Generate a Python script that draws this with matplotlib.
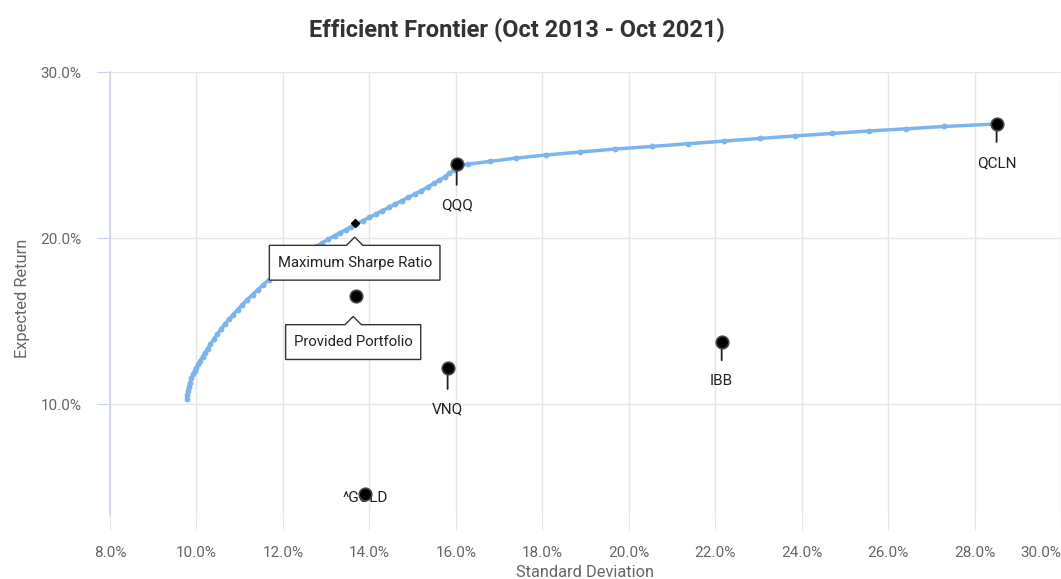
import numpy as np
import matplotlib.pyplot as plt
from matplotlib.path import Path

plt.rcParams['font.family'] = ['Roboto', 'DejaVu Sans']

# Frontera eficiente (desvio estandar %, retorno esperado %)
frontier_sd = [9.78, 9.79, 9.80, 9.82, 9.85, 9.88, 9.92, 9.96, 10.00, 10.04,
               10.09, 10.14, 10.20, 10.26, 10.32, 10.40, 10.48, 10.56, 10.65, 10.75,
               10.85, 10.95, 11.05, 11.17, 11.30, 11.42, 11.55, 11.67, 11.80, 11.92,
               12.05, 12.17, 12.30, 12.45, 12.60, 12.75, 12.90, 13.05, 13.20, 13.32,
               13.45, 13.58, 13.70, 13.85, 14.00, 14.15, 14.30, 14.45, 14.60, 14.75,
               14.90, 15.05, 15.20, 15.35, 15.50, 15.62, 15.75, 15.85, 15.95, 16.00,
               16.06, 16.28, 16.80, 17.40, 18.08, 18.87, 19.68, 20.54, 21.37, 22.20,
               23.03, 23.85, 24.70, 25.56, 26.42, 27.30, 28.51]
frontier_ret = [10.30, 10.55, 10.80, 11.05, 11.30, 11.55, 11.80, 12.00, 12.20, 12.40,
                12.60, 12.85, 13.10, 13.35, 13.60, 13.90, 14.20, 14.50, 14.80, 15.10,
                15.40, 15.68, 15.95, 16.28, 16.60, 16.90, 17.20, 17.48, 17.75, 18.00,
                18.25, 18.50, 18.75, 19.00, 19.25, 19.48, 19.70, 19.93, 20.15, 20.33,
                20.50, 20.68, 20.85, 21.05, 21.25, 21.45, 21.65, 21.85, 22.05, 22.25,
                22.45, 22.65, 22.85, 23.08, 23.30, 23.50, 23.70, 23.90, 24.10, 24.23,
                24.35, 24.45, 24.62, 24.82, 25.00, 25.18, 25.36, 25.52, 25.68, 25.84,
                26.00, 26.15, 26.30, 26.45, 26.58, 26.72, 26.87]

# Activos individuales
assets = ['QQQ', 'QCLN', 'IBB', 'VNQ', '^GOLD']
asset_sd = [16.02, 28.51, 22.15, 15.81, 13.90]
asset_ret = [24.46, 26.87, 13.73, 12.17, 4.58]

# Carteras destacadas
sharpe_sd, sharpe_ret = 13.66, 20.90
provided_sd, provided_ret = 13.69, 16.50

xticks = [8, 10, 12, 14, 16, 18, 20, 22, 24, 26, 28, 30]
yticks = [10, 20, 30]


def callout(x0, y0, width, height, mutation_size):
    # caja con piquito arriba (estilo tooltip)
    px, py = 0.55 * mutation_size, 0.7 * mutation_size
    x0, y0 = x0 - px, y0 - py
    x1, y1 = x0 + width + 2 * px, y0 + height + 2 * py
    cx = (x0 + x1) / 2
    nw, nh = 0.55 * mutation_size, 0.55 * mutation_size
    verts = [(x0, y0), (x1, y0), (x1, y1), (cx + nw, y1), (cx, y1 + nh),
             (cx - nw, y1), (x0, y1), (x0, y0)]
    codes = [Path.MOVETO] + [Path.LINETO] * 6 + [Path.CLOSEPOLY]
    return Path(verts, codes)


fig = plt.figure(figsize=(10.61, 5.79), dpi=100)
ax = fig.add_axes([110 / 1061, 1 - 515 / 579, 951 / 1061, 443 / 579])

ax.plot(frontier_sd, frontier_ret, color='#7cb5ec', linewidth=2.5,
        marker='o', markersize=3.2, zorder=3)

ax.plot(asset_sd, asset_ret, 'o', color='black', markersize=9,
        markeredgecolor='#444444', markeredgewidth=1.2, zorder=5, linestyle='none')
ax.plot([provided_sd], [provided_ret], 'o', color='black', markersize=9,
        markeredgecolor='#444444', markeredgewidth=1.2, zorder=5)
ax.plot([sharpe_sd], [sharpe_ret], 'D', color='black', markersize=4, zorder=5)

# etiquetas de activos
for name, sx, ry in zip(assets, asset_sd, asset_ret):
    if name == '^GOLD':
        ax.annotate(name, (sx, ry), xytext=(0, -3), textcoords='offset points',
                    ha='center', va='center', fontsize=11, color='#222222', zorder=4)
    else:
        off = -30 if name in ('VNQ', 'QQQ') else -28
        ax.annotate(name, (sx, ry), xytext=(0, off), textcoords='offset points',
                    ha='center', va='center', fontsize=11, color='#222222', zorder=4,
                    arrowprops=dict(arrowstyle='-', color='#222222', lw=1.3,
                                    shrinkA=8, shrinkB=0))

box = dict(boxstyle=callout, facecolor='white', edgecolor='#333333', linewidth=1)
ax.annotate('Maximum Sharpe Ratio', (sharpe_sd, sharpe_ret), xytext=(0, -28.5),
            textcoords='offset points', ha='center', va='center', fontsize=10.7,
            color='#222222', bbox=box, zorder=6)
ax.annotate('Provided Portfolio', (provided_sd, provided_ret), xytext=(-2, -33),
            textcoords='offset points', ha='center', va='center', fontsize=10.7,
            color='#222222', bbox=box, zorder=6)

ax.set_xlim(8, 30)
ax.set_ylim(3.33, 30)
ax.set_xticks(xticks)
ax.set_yticks(yticks)
ax.set_xticklabels([f'{v:.1f}%' for v in xticks])
ax.set_yticklabels([f'{v:.1f}%' for v in yticks])
ax.get_xticklabels()[-1].set_horizontalalignment('right')

ax.grid(True, color='#e6e6e6', linewidth=1)
ax.set_axisbelow(True)
for s in ['top', 'right', 'bottom']:
    ax.spines[s].set_visible(False)
ax.spines['left'].set_color('#ccd6eb')
ax.spines['left'].set_linewidth(1.2)

ax.tick_params(axis='x', length=11, color='#e6e6e6', pad=11, labelsize=11, labelcolor='#666666')
ax.tick_params(axis='y', length=9.5, color='#ccd6eb', pad=11, labelsize=11, labelcolor='#666666')

ax.set_xlabel('Standard Deviation', fontsize=11.8, color='#666666')
ax.set_ylabel('Expected Return', fontsize=11.8, color='#666666')
ax.xaxis.set_label_coords(0.5, -0.112)
ax.yaxis.set_label_coords(-0.084, 0.49)

fig.text(517 / 1061, 1 - 30 / 579, 'Efficient Frontier (Oct 2013 - Oct 2021)',
         ha='center', va='center', fontsize=17, fontweight='bold', color='#333333')

fig.savefig('out.png', dpi=100)
